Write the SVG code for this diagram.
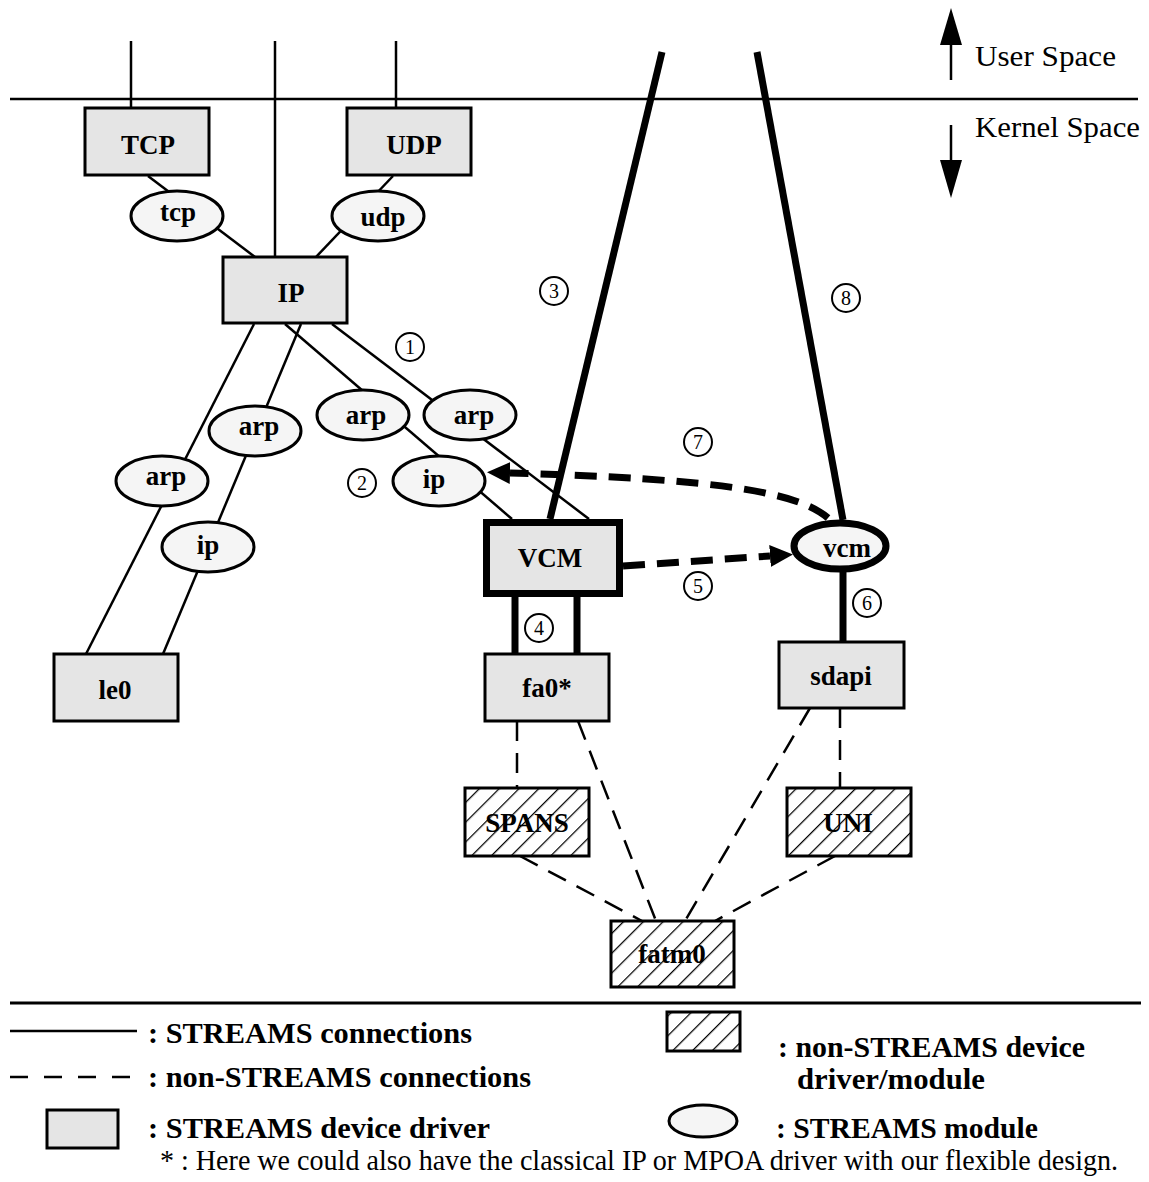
<svg xmlns="http://www.w3.org/2000/svg" width="1149" height="1182" viewBox="0 0 1149 1182">
  <defs>
    <style>
      .drv { fill: #e5e5e5; stroke: #000; stroke-width: 3; }
      .mod { fill: #f5f5f5; stroke: #000; stroke-width: 3; }
      .hbg { fill: #fff; }
      .hbox { fill: url(#hatch); stroke: #000; stroke-width: 3; }
      .lbl { font-family: "Liberation Serif", "Times New Roman", serif; font-weight: bold; font-size: 27px; text-anchor: middle; fill: #000; }
      .num { font-family: "Liberation Serif", "Times New Roman", serif; font-size: 20px; text-anchor: middle; fill: #000; }
      .ncirc { fill: #fff; stroke: #000; stroke-width: 2; }
      .leg { font-family: "Liberation Serif", "Times New Roman", serif; font-weight: bold; font-size: 29px; fill: #000; }
      .reg { font-family: "Liberation Serif", "Times New Roman", serif; font-size: 29px; fill: #000; }
      .s { stroke: #000; stroke-width: 2.5; fill: none; }
      .thick { stroke: #000; stroke-width: 7; fill: none; }
      .dash { stroke: #000; stroke-width: 2.5; fill: none; stroke-dasharray: 20 12; }
      .tdash { stroke: #000; stroke-width: 7; fill: none; stroke-dasharray: 22 12; }
    </style>
    <!-- diagonal hatching, transparent between the strokes so labels show through -->
    <pattern id="hatch" patternUnits="userSpaceOnUse" width="14" height="14" patternTransform="rotate(45)">
      <line x1="0" y1="0" x2="0" y2="14" stroke="#000" stroke-width="2.5"/>
    </pattern>
    <marker id="head" markerUnits="userSpaceOnUse" markerWidth="24" markerHeight="24" refX="0" refY="11" orient="auto">
      <polygon points="0,0 23,11 0,22" fill="#000"/>
    </marker>
  </defs>

  <!-- user / kernel boundary -->
  <g id="boundary">
    <line x1="10" y1="99" x2="1138" y2="99" stroke="#000" stroke-width="2.5"/>
    <line x1="951" y1="80" x2="951" y2="45" stroke="#000" stroke-width="2.5"/>
    <polygon points="940,45 962,45 951,8" fill="#000"/>
    <line x1="951" y1="125" x2="951" y2="160" stroke="#000" stroke-width="2.5"/>
    <polygon points="940,160 962,160 951,198" fill="#000"/>
    <text class="reg" x="975" y="66" textLength="141" lengthAdjust="spacingAndGlyphs">User Space</text>
    <text class="reg" x="975" y="137" textLength="165" lengthAdjust="spacingAndGlyphs">Kernel Space</text>
  </g>

  <!-- connectors -->
  <g id="connectors">
    <line class="s" x1="131" y1="41" x2="131" y2="108"/>
    <line class="s" x1="275" y1="41" x2="275" y2="257"/>
    <line class="s" x1="396" y1="41" x2="396" y2="108"/>
    <line class="s" x1="148" y1="176" x2="255" y2="257"/>
    <line class="s" x1="393" y1="176" x2="316" y2="257"/>
    <line class="s" x1="254" y1="324" x2="86" y2="654"/>
    <line class="s" x1="301" y1="324" x2="163" y2="654"/>
    <line class="s" x1="285" y1="324" x2="512" y2="519"/>
    <line class="s" x1="332" y1="324" x2="589" y2="519"/>
    <line class="thick" x1="662" y1="52" x2="550" y2="519"/>
    <line class="thick" x1="757" y1="52" x2="843" y2="520"/>
    <line class="thick" x1="515" y1="597" x2="515" y2="654"/>
    <line class="thick" x1="577" y1="597" x2="577" y2="654"/>
    <line class="thick" x1="843" y1="572" x2="843" y2="642"/>
    <path class="tdash" d="M 623 566 L 770 556" marker-end="url(#head)"/>
    <path class="tdash" d="M 828 518 C 798 492 720 479 510 473" marker-end="url(#head)"/>
    <line class="dash" x1="517" y1="721" x2="517" y2="788"/>
    <line class="dash" x1="578" y1="721" x2="656" y2="921"/>
    <line class="dash" x1="840" y1="708" x2="840" y2="788"/>
    <line class="dash" x1="810" y1="708" x2="685" y2="921"/>
    <line class="dash" x1="520" y1="856" x2="642" y2="921"/>
    <line class="dash" x1="835" y1="856" x2="715" y2="921"/>
  </g>

  <!-- STREAMS device drivers -->
  <g id="TCP"><rect class="drv" x="85" y="108" width="124" height="67"/><text class="lbl" x="148" y="154">TCP</text></g>
  <g id="UDP"><rect class="drv" x="347" y="108" width="124" height="67"/><text class="lbl" x="414" y="154">UDP</text></g>
  <g id="IP"><rect class="drv" x="223" y="257" width="124" height="66"/><text class="lbl" x="291" y="302">IP</text></g>
  <g id="le0"><rect class="drv" x="54" y="654" width="124" height="67"/><text class="lbl" x="115" y="699">le0</text></g>
  <g id="VCM"><rect class="drv" x="486.5" y="522.5" width="133" height="71" style="stroke-width:7"/><text class="lbl" x="550" y="567">VCM</text></g>
  <g id="fa0"><rect class="drv" x="485" y="654" width="124" height="67"/><text class="lbl" x="547" y="697">fa0*</text></g>
  <g id="sdapi"><rect class="drv" x="779" y="642" width="125" height="66"/><text class="lbl" x="841" y="685">sdapi</text></g>

  <!-- STREAMS modules -->
  <g id="tcp"><ellipse class="mod" cx="177" cy="216" rx="46" ry="25"/><text class="lbl" x="178" y="221">tcp</text></g>
  <g id="udp"><ellipse class="mod" cx="378" cy="216" rx="46" ry="25"/><text class="lbl" x="383" y="226">udp</text></g>
  <g id="arp-le0"><ellipse class="mod" cx="162" cy="481" rx="46" ry="25"/><text class="lbl" x="166" y="485">arp</text></g>
  <g id="arp-le0-ip"><ellipse class="mod" cx="255" cy="431" rx="46" ry="25"/><text class="lbl" x="259" y="435">arp</text></g>
  <g id="ip-le0"><ellipse class="mod" cx="208" cy="547" rx="46" ry="25"/><text class="lbl" x="208" y="554">ip</text></g>
  <g id="arp-vcm-ip"><ellipse class="mod" cx="363" cy="415" rx="46" ry="25"/><text class="lbl" x="366" y="424">arp</text></g>
  <g id="arp-vcm"><ellipse class="mod" cx="470" cy="415" rx="46" ry="25"/><text class="lbl" x="474" y="424">arp</text></g>
  <g id="ip-vcm"><ellipse class="mod" cx="439" cy="481" rx="46" ry="25"/><text class="lbl" x="434" y="488">ip</text></g>
  <g id="vcm"><ellipse class="mod" cx="840" cy="546" rx="46" ry="23" style="stroke-width:7"/><text class="lbl" x="847" y="557">vcm</text></g>

  <!-- non-STREAMS drivers / modules: white ground, label, hatching on top -->
  <g id="SPANS"><rect class="hbg" x="465" y="788" width="124" height="68"/><text class="lbl" x="527" y="832">SPANS</text><rect class="hbox" x="465" y="788" width="124" height="68"/></g>
  <g id="UNI"><rect class="hbg" x="787" y="788" width="124" height="68"/><text class="lbl" x="848" y="832">UNI</text><rect class="hbox" x="787" y="788" width="124" height="68"/></g>
  <g id="fatm0"><rect class="hbg" x="611" y="921" width="123" height="66"/><text class="lbl" x="672" y="963">fatm0</text><rect class="hbox" x="611" y="921" width="123" height="66"/></g>

  <!-- step numbers -->
  <g id="steps">
    <circle class="ncirc" cx="410" cy="347" r="14"/><text class="num" x="410" y="354">1</text>
    <circle class="ncirc" cx="362" cy="483" r="14"/><text class="num" x="362" y="490">2</text>
    <circle class="ncirc" cx="554" cy="291" r="14"/><text class="num" x="554" y="298">3</text>
    <circle class="ncirc" cx="539" cy="628" r="14"/><text class="num" x="539" y="635">4</text>
    <circle class="ncirc" cx="698" cy="586" r="14"/><text class="num" x="698" y="593">5</text>
    <circle class="ncirc" cx="867" cy="603" r="14"/><text class="num" x="867" y="610">6</text>
    <circle class="ncirc" cx="698" cy="442" r="14"/><text class="num" x="698" y="449">7</text>
    <circle class="ncirc" cx="846" cy="298" r="14"/><text class="num" x="846" y="305">8</text>
  </g>

  <!-- legend -->
  <g id="legend">
    <line x1="10" y1="1003" x2="1141" y2="1003" stroke="#000" stroke-width="3"/>
    <line class="s" x1="10" y1="1031" x2="137" y2="1031"/>
    <text class="leg" x="148" y="1043" textLength="324" lengthAdjust="spacingAndGlyphs">: STREAMS connections</text>
    <line class="dash" x1="10" y1="1077" x2="137" y2="1077" style="stroke-dasharray:18 16"/>
    <text class="leg" x="148" y="1087" textLength="383" lengthAdjust="spacingAndGlyphs">: non-STREAMS connections</text>
    <rect class="drv" x="47" y="1110" width="71" height="38"/>
    <text class="leg" x="148" y="1138" textLength="342" lengthAdjust="spacingAndGlyphs">: STREAMS device driver</text>
    <rect class="hbg" x="667" y="1012" width="73" height="39"/>
    <rect class="hbox" x="667" y="1012" width="73" height="39"/>
    <text class="leg" x="778" y="1057" textLength="307" lengthAdjust="spacingAndGlyphs">: non-STREAMS device</text>
    <text class="leg" x="797" y="1089" textLength="188" lengthAdjust="spacingAndGlyphs">driver/module</text>
    <ellipse class="mod" cx="703" cy="1121" rx="34" ry="16"/>
    <text class="leg" x="776" y="1138" textLength="262" lengthAdjust="spacingAndGlyphs">: STREAMS module</text>
    <text class="reg" x="160" y="1170" textLength="958" lengthAdjust="spacingAndGlyphs">* : Here we could also have the classical IP or MPOA driver with our flexible design.</text>
  </g>
</svg>
